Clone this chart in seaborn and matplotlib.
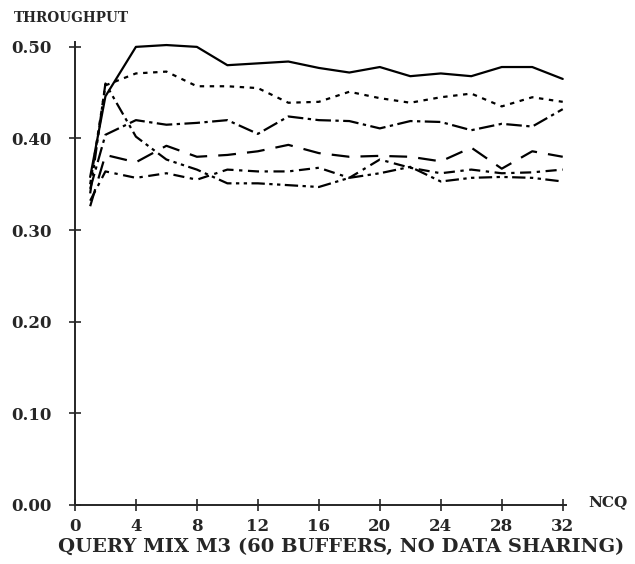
import pandas as pd
import matplotlib.pyplot as plt
import seaborn as sns

# NCQ values (x) and throughput for each run
ncq = [1, 2, 4, 6, 8, 10, 12, 14, 16, 18, 20, 22, 24, 26, 28, 30, 32]

solid = [0.358, 0.446, 0.500, 0.502, 0.500, 0.480, 0.482, 0.484, 0.477, 0.472,
         0.478, 0.468, 0.471, 0.468, 0.478, 0.478, 0.465]
dotted = [0.350, 0.458, 0.471, 0.473, 0.457, 0.457, 0.455, 0.439, 0.440, 0.451,
          0.444, 0.439, 0.445, 0.449, 0.435, 0.445, 0.440]
dashdot = [0.345, 0.404, 0.420, 0.415, 0.417, 0.420, 0.405, 0.424, 0.420, 0.419,
           0.411, 0.419, 0.418, 0.409, 0.416, 0.413, 0.432]
longdash = [0.326, 0.382, 0.374, 0.392, 0.380, 0.382, 0.386, 0.393, 0.384, 0.380,
            0.381, 0.380, 0.375, 0.390, 0.367, 0.386, 0.380]
falling = [0.340, 0.460, 0.402, 0.377, 0.366, 0.351, 0.351, 0.349, 0.347, 0.357,
           0.362, 0.369, 0.353, 0.357, 0.358, 0.357, 0.353]
lowline = [0.332, 0.364, 0.357, 0.362, 0.355, 0.366, 0.364, 0.364, 0.368, 0.357,
           0.377, 0.368, 0.362, 0.366, 0.362, 0.363, 0.366]

series = {"a": solid, "b": dotted, "c": dashdot, "d": longdash, "e": falling, "f": lowline}
rows = []
for name, vals in series.items():
    for x, y in zip(ncq, vals):
        rows.append({"ncq": x, "tp": y, "run": name})
df = pd.DataFrame(rows)

sns.set_style("ticks")
plt.rcParams["font.family"] = ["DejaVu Serif"]
plt.rcParams["font.weight"] = "bold"

fig = plt.figure(figsize=(6.35, 5.64), dpi=100)
ax = fig.add_axes([0.118, 0.105, 0.773, 0.82])

dash_map = {
    "a": "",
    "b": (2, 2.5),
    "c": (7, 2, 1.5, 2),
    "d": (8, 5),
    "e": (6, 2, 1.5, 2, 1.5, 2),
    "f": (5, 2.5, 1.5, 2.5),
}
sns.lineplot(data=df, x="ncq", y="tp", hue="run", style="run",
             palette=["black"] * 6, dashes=dash_map, linewidth=1.6,
             legend=False, ax=ax)

ax.set_xlim(0, 32.2)
ax.set_ylim(0, 0.505)
ax.set_xticks(range(0, 33, 4))
ax.set_yticks([0.0, 0.1, 0.2, 0.3, 0.4, 0.5])
ax.set_yticklabels(["0.00", "0.10", "0.20", "0.30", "0.40", "0.50"])
ax.tick_params(direction="inout", length=9, width=1.2, labelsize=12)
ax.tick_params(axis="y", pad=12)
ax.tick_params(axis="x", pad=5)
sns.despine(ax=ax)
for s in ["left", "bottom"]:
    ax.spines[s].set_linewidth(1.4)
ax.set_xlabel("")
ax.set_ylabel("")

fig.text(0.022, 0.968, "THROUGHPUT", fontsize=9.8, ha="left", va="center")
fig.text(0.958, 0.11, "NCQ", fontsize=11, ha="center", va="center")
fig.text(0.537, 0.03, "QUERY MIX M3 (60 BUFFERS, NO DATA SHARING)", fontsize=14,
         ha="center", va="center")

fig.savefig("out.png", dpi=100)
